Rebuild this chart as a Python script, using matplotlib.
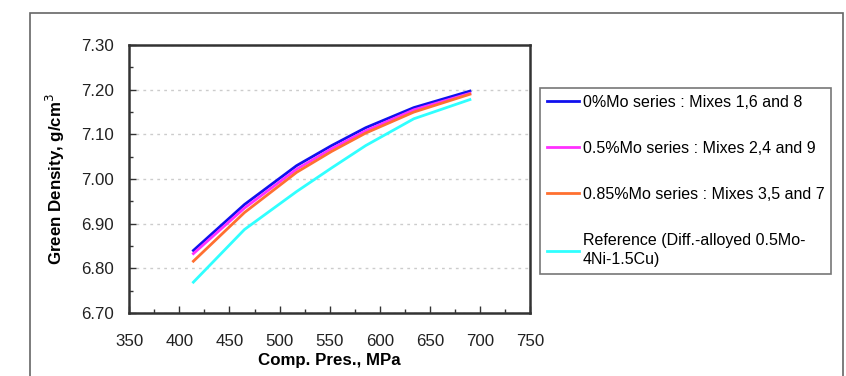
import matplotlib
matplotlib.use("Agg")
import matplotlib.pyplot as plt
from matplotlib.patches import Rectangle
from matplotlib.ticker import MultipleLocator

plt.rcParams['font.family'] = ['Liberation Sans', 'DejaVu Sans']

# Compaction pressure (MPa)
pressure = [414, 465, 517, 552, 586, 634, 690]

# Green density (g/cm3) per series
mo_0 = [6.840, 6.943, 7.030, 7.075, 7.115, 7.160, 7.197]
mo_05 = [6.833, 6.935, 7.022, 7.068, 7.108, 7.155, 7.192]
mo_085 = [6.816, 6.925, 7.015, 7.062, 7.103, 7.150, 7.190]
reference = [6.769, 6.887, 6.972, 7.025, 7.075, 7.135, 7.178]

labels = [
    "0%Mo series : Mixes 1,6 and 8",
    "0.5%Mo series : Mixes 2,4 and 9",
    "0.85%Mo series : Mixes 3,5 and 7",
    "Reference (Diff.-alloyed 0.5Mo-\n4Ni-1.5Cu)",
]
colors = ['#1010ee', '#ff30ff', '#ff7030', '#30ffff']

fig = plt.figure(figsize=(8.46, 3.76), dpi=100)
ax = fig.add_axes([0.1528, 0.1676, 0.4737, 0.7124])

# Outer frame around the whole chart
fig.patches.append(Rectangle((30 / 846, -0.1), (843 - 30) / 846, 1.1 - 12.7 / 376,
                             transform=fig.transFigure, fill=False,
                             edgecolor='#666666', lw=1.2))

for ys, c, lab in zip([mo_0, mo_05, mo_085, reference], colors, labels):
    ax.plot(pressure, ys, color=c, lw=2, label=lab)

ax.set_xlim(350, 750)
ax.set_ylim(6.70, 7.30)
ax.xaxis.set_major_locator(MultipleLocator(50))
ax.xaxis.set_minor_locator(MultipleLocator(25))
ax.yaxis.set_major_locator(MultipleLocator(0.1))
ax.yaxis.set_minor_locator(MultipleLocator(0.05))
ax.yaxis.set_major_formatter(plt.FormatStrFormatter('%.2f'))
ax.tick_params(which='both', direction='in', colors='#333333', labelcolor='#222222',
               labelsize=12.2)
ax.tick_params(which='major', length=5, width=1)
ax.tick_params(which='minor', length=3, width=1)
ax.tick_params(axis='y', pad=11)
ax.tick_params(axis='x', pad=15)
ax.grid(axis='y', which='major', color='#cccccc', ls=(0, (2, 3)), lw=1)
for s in ax.spines.values():
    s.set_linewidth(1.8)
    s.set_color('#333333')

ax.set_xlabel("Comp. Pres., MPa", fontweight='bold', fontsize=12.2, labelpad=3)
ax.set_ylabel("Green Density, g/cm$^3$", fontweight='bold', fontsize=12.2, labelpad=10)

leg = ax.legend(loc='upper left', bbox_to_anchor=(540 / 846, 1 - 88 / 376),
                bbox_transform=fig.transFigure, fontsize=11.5, frameon=True,
                fancybox=False, handlelength=2.0, handletextpad=0.25,
                labelspacing=1.95, borderpad=0.42, borderaxespad=0)
for t in leg.get_texts():
    t.set_linespacing(1.35)
leg.get_frame().set_edgecolor('#555555')
leg.get_frame().set_linewidth(1.2)

fig.savefig("out.png", dpi=100)
